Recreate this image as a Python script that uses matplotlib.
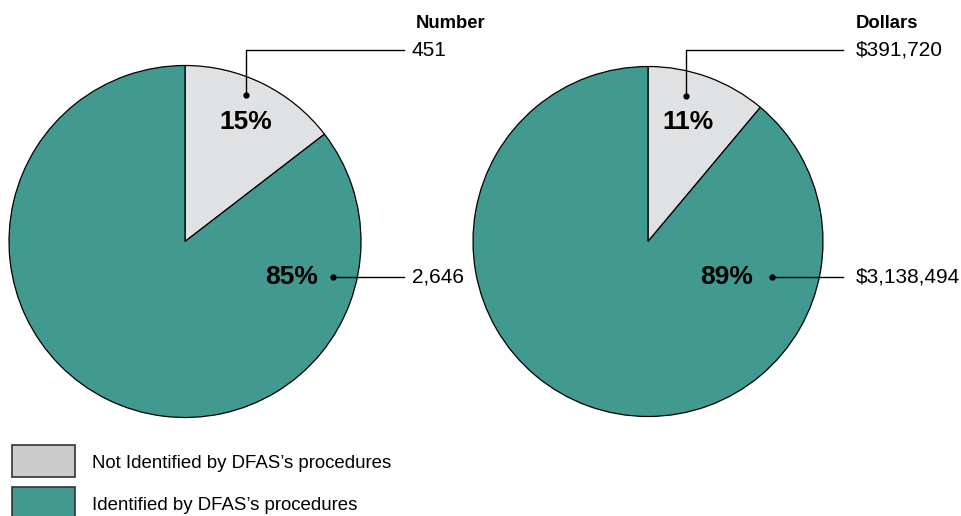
import matplotlib.pyplot as plt
from matplotlib.patches import Rectangle

plt.rcParams['font.family'] = ['Liberation Sans', 'DejaVu Sans']

# data
categories = ["Not Identified by DFAS\u2019s procedures", "Identified by DFAS\u2019s procedures"]
number_values = [451, 2646]
dollar_values = [391720, 3138494]
number_labels = ["451", "2,646"]
dollar_labels = ["$391,720", "$3,138,494"]
colors = ['#e0e1e3', '#419990']
legend_colors = ['#cccccc', '#419990']

W, H = 962, 516
fig = plt.figure(figsize=(W / 100, H / 100), dpi=100)
ax = fig.add_axes([0, 0, 1, 1])
ax.set_xlim(0, W)
ax.set_ylim(0, H)
ax.axis('off')


def Y(py):
    # pixel row -> data y
    return H - py


def draw_pie(values, labels, title, cx, cy, r, pct_pos, dot_pos, line_end, text_x, title_x):
    ax.pie(values, colors=colors, startangle=90, counterclock=False,
           center=(cx, Y(cy)), radius=r, frame=True,
           wedgeprops=dict(edgecolor='black', linewidth=0.9))
    total = sum(values)
    for i, v in enumerate(values):
        pct = round(100 * v / total)
        px, py = pct_pos[i]
        ax.text(px, Y(py), f"{pct}%", ha='center', va='center',
                fontsize=19, fontweight='bold', color='black')
    # leader for small slice: up then right
    dx, dy = dot_pos[0]
    ax.plot([dx, dx, line_end], [Y(dy), Y(50), Y(50)], color='black', lw=1)
    ax.plot(dx, Y(dy), 'o', color='black', ms=3.5)
    ax.text(text_x, Y(50), labels[0], ha='left', va='center', fontsize=15)
    # leader for large slice
    dx, dy = dot_pos[1]
    ax.plot([dx, line_end], [Y(dy), Y(dy)], color='black', lw=1)
    ax.plot(dx, Y(dy), 'o', color='black', ms=3.5)
    ax.text(text_x, Y(dy), labels[1], ha='left', va='center', fontsize=15)
    ax.text(title_x, Y(23), title, ha='left', va='center',
            fontsize=13.3, fontweight='bold')


draw_pie(number_values, number_labels, "Number", 185, 241.5, 176,
         [(246, 122), (292, 277)], [(246, 95), (333, 277)], 404, 412, 416)
draw_pie(dollar_values, dollar_labels, "Dollars", 648, 241.5, 175,
         [(688, 122), (727, 277)], [(686, 96), (772, 277)], 843, 856, 856)

ax.set_xlim(0, W)
ax.set_ylim(0, H)
ax.set_aspect('auto')

# legend
box_tops = [445, 487]
for i, cat in enumerate(categories):
    top = box_tops[i]
    ax.add_patch(Rectangle((12, Y(top + 32)), 63, 32, facecolor=legend_colors[i],
                           edgecolor='#333333', lw=1.2, clip_on=False))
    ax.text(92, Y(top + 18), cat, ha='left', va='center', fontsize=13.4)

fig.savefig('out.png', dpi=100)
